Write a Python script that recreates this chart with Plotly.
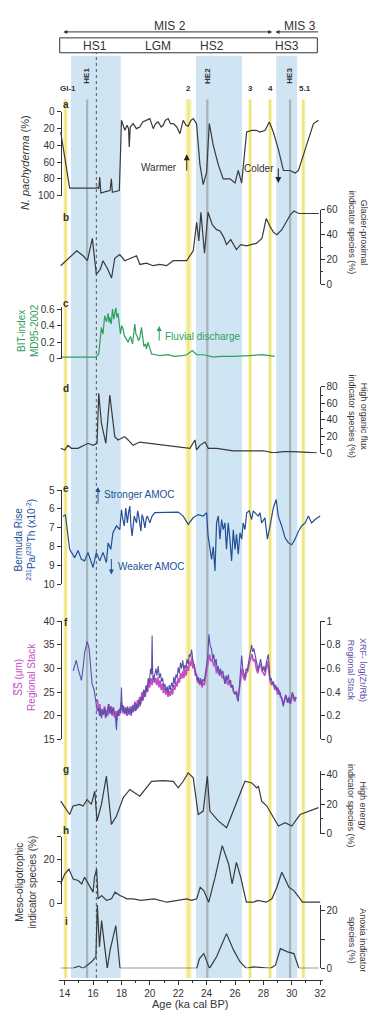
import plotly.graph_objects as go

# ---------------- data ----------------
a_age = [13.72, 14.35, 16.2, 16.3, 16.4, 16.47, 16.55, 16.7, 16.94, 17.2, 17.29, 17.36, 17.6, 17.85, 17.95, 18.0,
         18.24, 18.4, 18.5, 18.55, 18.62, 18.82, 19.05, 19.29, 19.5, 19.76, 20.0, 20.24, 20.4, 20.59, 20.8, 20.94,
         21.1, 21.29, 21.45, 21.65, 21.9, 22.12, 22.35, 22.55, 22.7, 22.9, 23.06, 23.29, 23.53, 23.76, 24.0, 24.19,
         24.47, 24.82, 25.17, 25.65, 26.0, 26.23, 26.47, 26.82, 27.18, 27.5, 27.76, 28.12, 28.42, 28.7, 29.06, 29.41,
         29.88, 30.24, 30.47, 30.94, 31.53, 31.88]
a_val = [24, 91, 91, 90, 92, 78, 97, 96, 95, 94, 80, 96, 95, 94, 40, 10,
         22, 16, 20, 42, 18, 14, 20, 18, 12, 10, 8, 20, 14, 12, 18, 16,
         10, 8, 14, 14, 18, 26, 10, 16, 17, 10, 8, 14, 63, 87, 72, 14,
         40, 63, 80, 80, 85, 70, 85, 24, 22, 22, 24, 22, 12, 24, 45, 70,
         70, 73, 70, 45, 14, 10]

b_age = [13.72, 14.3, 14.85, 15.3, 15.6, 15.95, 16.23, 16.5, 16.7, 17.0, 17.3, 17.53, 17.88, 18.23, 18.59, 19.06,
         19.3, 19.76, 20.23, 20.7, 21.18, 21.65, 22.24, 22.59, 23.06, 23.3, 23.45, 23.6, 23.85, 24.1, 24.4, 24.7,
         24.95, 25.2, 25.4, 25.7, 26.1, 26.4, 26.8, 27.1, 27.5, 27.9, 28.2, 28.45, 28.7, 28.95, 29.3, 29.6, 29.9,
         30.15, 30.5, 31.0, 31.5, 31.9]
b_val = [15, 21, 27, 23, 19, 37, 8, 12, 19, 13, 5, 21, 24, 19, 21, 23,
         16, 17, 15, 16, 15, 19, 19, 19, 27, 50, 35, 58, 25, 58, 48, 44,
         43, 38, 32, 36, 28, 32, 31, 32, 33, 37, 53, 47, 42, 40, 44, 50, 56,
         59, 57, 57, 57, 57]

c_age = [13.72, 14.5, 15.5, 16.2, 16.4, 16.47, 16.59, 16.7, 16.82, 16.94, 17.06, 17.12, 17.18, 17.28, 17.37, 17.46,
         17.53, 17.6, 17.68, 17.76, 17.93, 18.02, 18.12, 18.2, 18.31, 18.47, 18.55, 18.64, 18.78, 18.86, 18.94,
         19.02, 19.11, 19.2, 19.29, 19.41, 19.5, 19.58, 19.7, 19.76, 19.88, 20.12, 20.4, 20.7, 21.3, 21.7, 22.3,
         22.6, 23.0, 23.3, 23.8, 24.5, 24.95, 25.9, 27.05, 27.9, 28.8]
c_val = [0.02, 0.02, 0.02, 0.02, 0.06, 0.2, 0.38, 0.3, 0.52, 0.45, 0.55, 0.44, 0.5, 0.42, 0.6, 0.48,
         0.56, 0.62, 0.5, 0.55, 0.3, 0.4, 0.36, 0.28, 0.25, 0.2, 0.24, 0.27, 0.18, 0.3, 0.42,
         0.3, 0.27, 0.22, 0.25, 0.38, 0.26, 0.15, 0.18, 0.12, 0.2, 0.06, 0.05, 0.04, 0.05, 0.03, 0.04,
         0.05, 0.1, 0.05, 0.05, 0.02, 0.03, 0.03, 0.04, 0.05, 0.03]

d_age = [13.72, 14.0, 14.23, 14.47, 14.94, 15.29, 15.64, 16.0, 16.28, 16.4, 16.59, 16.9, 17.18, 17.53, 17.76, 18.0,
         18.24, 18.47, 18.82, 19.29, 20.0, 20.94, 21.88, 22.82, 23.18, 23.29, 23.53, 23.88, 24.12, 24.7, 25.88,
         26.82, 28.0, 28.7, 29.41, 30.12, 31.06, 31.76]
d_val = [6, 4, 9.5, 6, 6, 9.5, 12, 9.5, 12, 72, 36, 12, 70, 20, 16, 18,
         20, 16, 9.5, 13.5, 12, 9.5, 8, 6, 16, 4, 9.5, 13.5, 6, 6, 3,
         3, 3, 0.5, 2, 2, 1, 0.5]

e_age = [13.88, 14.05, 14.35, 14.7, 14.94, 15.18, 15.4, 15.64, 15.88, 16.0, 16.23, 16.47, 16.7, 16.94, 17.06, 17.25,
         17.4, 17.65, 17.88, 18.0, 18.1, 18.2, 18.3, 18.42, 18.5, 18.59, 18.67, 18.75, 18.9, 19.06, 19.14, 19.22,
         19.37, 19.45, 19.53, 19.65, 19.75, 19.83, 20.0, 20.16, 20.35, 21.3, 22.0, 22.35, 22.7, 23.05, 23.4, 23.76,
         24.0, 24.1, 24.23, 24.35, 24.47, 24.59, 24.7, 24.82, 24.94, 25.06, 25.17, 25.29, 25.4, 25.52, 25.64, 25.76,
         25.88, 26.0, 26.11, 26.23, 26.35, 26.47, 26.58, 26.7, 26.82, 27.0, 27.17, 27.29, 27.53, 27.64, 27.76, 27.88,
         28.11, 28.28, 28.47, 28.7, 28.9, 29.05, 29.29, 29.53, 29.76, 30.0, 30.23, 30.47, 30.7, 30.94, 31.17, 31.4,
         31.64, 32.0]
e_val = [6.4, 6.3, 8.14, 8.58, 8.2, 8.67, 8.75, 8.3, 8.84, 9.1, 8.3, 8.75, 8.3, 8.84, 7.8, 8.14,
         7.26, 6.9, 7.1, 6.04, 6.56, 6.9, 5.95, 6.74, 6.2, 5.85, 6.9, 7.43, 6.38, 6.74, 6.1, 6.38,
         7.18, 6.3, 6.47, 7.0, 6.5, 6.38, 6.74, 6.38, 6.2, 6.17, 6.17, 6.38, 6.82, 6.47, 6.3, 6.38,
         6.2, 7.4, 8.23, 8.67, 8.0, 9.28, 6.74, 6.38, 7.6, 6.56, 7.1, 6.74, 8.14, 6.74, 7.6, 8.75,
         7.1, 8.14, 7.35, 8.4, 7.26, 7.6, 6.74, 7.1, 6.2, 6.1, 6.56, 6.1, 6.3, 6.38, 6.2, 6.74,
         6.47, 7.6, 6.9, 5.95, 5.5, 6.38, 6.9, 7.53, 7.8, 7.9, 7.6, 7.18, 6.9, 6.74, 6.38, 6.74,
         6.56, 6.38]

f_xrf_age = [14.6, 14.75, 14.82, 14.94, 15.06, 15.18, 15.3, 15.41, 15.5, 15.58, 15.72, 15.83, 15.93, 16.07, 16.15,
             16.23, 16.3, 16.38, 16.45, 16.52, 16.6, 16.68, 16.76, 16.84, 16.92, 17.0, 17.08, 17.16, 17.24, 17.32,
             17.4, 17.5, 17.58, 17.65, 17.7, 17.78, 17.86, 17.93, 18.0, 18.05, 18.12, 18.2, 18.28, 18.36, 18.44,
             18.52, 18.6, 18.68, 18.76, 18.84, 18.92, 19.0, 19.08, 19.16, 19.24, 19.32, 19.4, 19.48, 19.56, 19.64,
             19.72, 19.8, 19.88, 19.96, 20.05, 20.12, 20.16, 20.2, 20.28, 20.35, 20.43, 20.5, 20.59, 20.67, 20.75,
             20.82, 20.9, 20.98, 21.06, 21.14, 21.22, 21.29, 21.37, 21.45, 21.53, 21.61, 21.69, 21.76, 21.84, 21.92,
             22.0, 22.08, 22.16, 22.24, 22.32, 22.4, 22.47, 22.55, 22.62, 22.7, 22.78, 22.86, 22.94, 23.02, 23.1,
             23.18, 23.26, 23.34, 23.41, 23.5, 23.58, 23.65, 23.74, 23.82, 23.9, 24.0, 24.08, 24.16, 24.24, 24.35,
             24.43, 24.5, 24.59, 24.67, 24.75, 24.82, 24.9, 24.98, 25.06, 25.14, 25.22, 25.29, 25.37, 25.45, 25.53,
             25.61, 25.69, 25.76, 25.84, 25.92, 26.0, 26.08, 26.16, 26.23, 26.31, 26.4, 26.47, 26.55, 26.62, 26.7,
             26.78, 26.86, 26.94, 27.02, 27.1, 27.17, 27.25, 27.33, 27.41, 27.49, 27.57, 27.64, 27.72, 27.8, 27.88,
             27.96, 28.04, 28.11, 28.19, 28.27, 28.35, 28.42, 28.47, 28.55, 28.62, 28.7, 28.78, 28.86, 28.94, 29.02,
             29.1, 29.17, 29.25, 29.33, 29.41, 29.49, 29.57, 29.64, 29.72, 29.8, 29.88, 29.96, 30.04, 30.11, 30.2,
             30.3]
f_xrf_val = [0.58, 0.63, 0.67, 0.60, 0.55, 0.50, 0.61, 0.74, 0.78, 0.83, 0.77, 0.60, 0.47, 0.42, 0.36,
             0.33, 0.24, 0.27, 0.20, 0.26, 0.18, 0.25, 0.21, 0.27, 0.19, 0.24, 0.30, 0.22, 0.28, 0.21,
             0.27, 0.23, 0.18, 0.08, 0.24, 0.20, 0.26, 0.22, 0.44, 0.24, 0.29, 0.22, 0.27, 0.21, 0.28,
             0.22, 0.27, 0.20, 0.28, 0.23, 0.31, 0.24, 0.30, 0.26, 0.34, 0.28, 0.36, 0.33, 0.42, 0.36,
             0.45, 0.40, 0.52, 0.47, 0.60, 0.55, 0.88, 0.56, 0.50, 0.55, 0.60, 0.54, 0.62, 0.52, 0.56,
             0.49, 0.52, 0.44, 0.47, 0.41, 0.45, 0.39, 0.46, 0.42, 0.48, 0.44, 0.53, 0.47, 0.55, 0.52,
             0.61, 0.56, 0.65, 0.60, 0.67, 0.58, 0.63, 0.60, 0.68, 0.64, 0.72, 0.70, 0.76, 0.68, 0.65,
             0.60, 0.55, 0.50, 0.53, 0.47, 0.52, 0.46, 0.51, 0.49, 0.55, 0.62, 0.70, 0.89, 0.80, 0.76,
             0.68, 0.72, 0.64, 0.68, 0.58, 0.62, 0.55, 0.60, 0.55, 0.58, 0.50, 0.47, 0.54, 0.50, 0.55,
             0.48, 0.50, 0.44, 0.46, 0.40, 0.38, 0.40, 0.34, 0.32, 0.45, 0.62, 0.71, 0.60, 0.56, 0.52,
             0.60, 0.58, 0.64, 0.70, 0.76, 0.80, 0.74, 0.77, 0.72, 0.66, 0.62, 0.58, 0.64, 0.68, 0.63,
             0.58, 0.62, 0.57, 0.64, 0.70, 0.72, 0.60, 0.50, 0.52, 0.47, 0.49, 0.44, 0.46, 0.41, 0.44,
             0.38, 0.40, 0.35, 0.33, 0.28, 0.34, 0.38, 0.35, 0.31, 0.36, 0.30, 0.36, 0.40, 0.37, 0.33,
             0.36]

f_ss_age = [16.3, 16.4, 16.48, 16.56, 16.64, 16.72, 16.8, 16.88, 16.96, 17.04, 17.12, 17.2, 17.28, 17.36, 17.44,
            17.52, 17.6, 17.68, 17.76, 17.84, 17.92, 18.0, 18.08, 18.16, 18.24, 18.32, 18.4, 18.48, 18.56, 18.64,
            18.72, 18.8, 18.88, 18.96, 19.04, 19.12, 19.2, 19.28, 19.36, 19.44, 19.52, 19.6, 19.68, 19.76, 19.84,
            19.92, 20.0, 20.08, 20.16, 20.24, 20.32, 20.4, 20.48, 20.56, 20.64, 20.72, 20.8, 20.88, 20.96, 21.04,
            21.12, 21.2, 21.28, 21.36, 21.44, 21.52, 21.6, 21.68, 21.76, 21.84, 21.92, 22.0, 22.08, 22.16, 22.24,
            22.32, 22.4, 22.48, 22.56, 22.64, 22.72, 22.8, 22.88, 22.96, 23.04, 23.12, 23.2, 23.28, 23.36, 23.44,
            23.52, 23.6, 23.68, 23.76, 23.84, 23.92, 24.0, 24.1, 24.2, 24.3, 24.4, 24.5, 24.6, 24.7, 24.8,
            24.9, 25.0, 25.1, 25.2, 25.3, 25.4, 25.5, 25.6, 25.7, 25.8, 25.9, 26.0, 26.1, 26.2, 26.3,
            26.4, 26.5, 26.6, 26.7, 26.8, 26.9, 27.0, 27.1, 27.2, 27.3, 27.4, 27.5, 27.6, 27.7, 27.8,
            27.9, 28.0, 28.1, 28.2, 28.3, 28.4, 28.5, 28.6, 28.7, 28.8, 28.9, 29.0, 29.1, 29.2, 29.3,
            29.4, 29.5, 29.6, 29.7, 29.8, 29.9, 30.0, 30.1, 30.2, 30.3]
f_ss_val = [23.5, 21.0, 22.5, 19.8, 21.5, 20.2, 22.0, 19.5, 21.2, 20.0, 22.5, 20.5, 22.0, 20.0, 21.8,
            19.6, 21.0, 19.0, 21.2, 20.0, 21.5, 22.8, 20.5, 22.0, 20.3, 21.8, 20.0, 21.5, 20.2, 22.0,
            20.5, 22.3, 21.0, 23.0, 21.2, 23.3, 21.8, 24.0, 22.5, 25.0, 23.2, 25.5, 24.0, 26.5, 25.0,
            27.0, 26.0, 28.0, 26.5, 28.5, 27.0, 28.0, 26.5, 28.2, 26.0, 27.5, 25.5, 26.8, 24.8, 26.0,
            24.5, 25.5, 24.0, 25.2, 24.2, 25.8, 24.5, 26.5, 25.5, 27.2, 26.2, 28.0, 27.0, 29.0, 27.8,
            29.5, 28.0, 29.8, 28.5, 30.5, 29.5, 31.5, 30.5, 32.5, 30.0, 31.0, 28.5, 29.0, 27.0, 28.0,
            26.5, 27.5, 26.0, 27.0, 26.5, 28.0, 29.5, 31.0, 33.0, 31.5, 32.0, 30.5, 31.0, 29.0, 30.0,
            28.5, 29.2, 28.0, 28.5, 26.8, 27.8, 26.5, 27.5, 26.0, 26.5, 25.0, 24.8, 25.2, 23.8, 25.5,
            28.5, 30.0, 28.0, 27.5, 29.0, 29.5, 31.0, 32.0, 33.0, 31.5, 32.0, 30.0, 29.0, 30.5, 31.0,
            29.5, 29.0, 28.5, 30.0, 31.5, 29.0, 27.0, 26.5, 27.2, 25.5, 26.2, 24.5, 25.5, 24.0, 23.8,
            22.5, 23.5, 24.2, 22.8, 23.8, 22.5, 23.8, 24.5, 23.0, 24.0]

g_age = [13.72, 14.0, 14.35, 14.59, 15.06, 15.29, 15.58, 15.88, 16.12, 16.28, 16.59, 16.94, 17.29, 17.65, 18.12,
         18.59, 19.29, 20.12, 20.94, 21.65, 22.0, 22.35, 22.7, 23.06, 23.41, 23.76, 24.05, 24.23, 24.82, 25.41,
         25.88, 26.35, 26.7, 27.18, 27.53, 27.65, 27.88, 28.24, 28.59, 29.06, 29.53, 30.0, 30.59, 31.29, 31.88]
g_val = [22, 17.6, 13, 18.7, 19.8, 18.7, 23, 19.8, 28.7, 8.7, 19.8, 38.7, 6.4, 12, 24.2,
         29.8, 25.3, 35.3, 35.8, 35.3, 30.9, 35.3, 40.9, 37.6, 13, 15.3, 38.7, 15.3, 8.7, 4.2,
         15.3, 26.4, 35.3, 34.2, 30.9, 32, 22, 18.7, 13, 5.3, 7.5, 5.3, 13, 15.3, 17.6]

h_age = [13.72, 14.0, 14.3, 14.6, 14.95, 15.2, 15.4, 15.6, 15.8, 16.0, 16.1, 16.25, 16.35, 16.6, 16.95,
         17.3, 17.55, 17.9, 18.4, 18.85, 19.35, 20.3, 21.2, 22.1, 22.6, 22.95, 23.3, 23.55, 23.8, 24.15,
         24.6, 25.1, 25.55, 25.8, 26.1, 26.4, 26.8, 27.3, 27.6, 28.2, 28.6, 28.95, 29.3, 29.8, 30.15,
         30.5, 30.75, 31.3, 32.0]
h_val = [8.9, 13.3, 15.5, 11.1, 10.4, 8.9, 11.9, 9.6, 7.4, 5.2, 11.9, 15.5, 2.2, 3.7, 1.5,
         2.2, 5.2, 3.7, 2.2, 2.2, 1.5, 2.2, 0.7, 1.5, 2.2, 1.5, 2.2, 7.4, 5.9, 0.7,
         11.9, 26, 17.8, 8.9, 18.5, 11.9, 0.7, 0.7, 1.5, 0.7, 2.2, 7.4, 14.1, 7.4, 5.9,
         3, 0.7, 0.7, 0.7]

i_age = [13.72, 14.6, 15.0, 15.3, 15.9, 16.2, 16.3, 16.45, 16.6, 16.75, 17.0, 17.2, 17.6, 17.9, 18.4,
         22.6, 23.3, 23.5, 23.8, 24.2, 24.7, 25.4, 25.9, 26.35, 26.8, 27.3, 28.5, 28.85, 29.2, 29.7,
         30.15, 30.5, 31.1, 31.9]
i_val = [0, 0, 0.8, 0, 2.3, 4, 22, 7.4, 16.5, 9.7, 0, 6.3, 14.8, 0, 0,
         0, 0, 3.4, 5.1, 0, 4, 12, 6.3, 2.3, 0, 0.5, 0, 1.1, 6.8, 5.7,
         5.1, 0, 0, 0]

x_ticks = [14, 16, 18, 20, 22, 24, 26, 28, 30, 32]

# event bands (ka)
hs_bands = [(14.45, 17.95), (23.25, 26.5), (28.9, 30.38)]
he_lines = [15.58, 24.05, 29.88]
yellow_bands = [(13.92, 14.2), (22.5, 22.95), (26.93, 27.2), (28.34, 28.6), (30.68, 30.96)]
dotted_x = 16.23

# ---------------- layout helpers ----------------
# The page body adds an 8 px offset; the figure is sized so absolute positions match the 376x1019 frame.
OFF = 8
W, H = 376 - OFF, 1019 - OFF
PLOT_L, PLOT_R, PLOT_T, PLOT_B = 59, 323, 10, 980          # absolute pixel frame of the plot area
ML, MR, MT = PLOT_L - OFF, 376 - PLOT_R, PLOT_T - OFF
MB = H - (PLOT_B - OFF)
PW = PLOT_R - PLOT_L
PH = PLOT_B - PLOT_T
FONT = "Liberation Sans, Arial, Helvetica, sans-serif"
INK = "#333333"
BLACKLINE = "#3a3a3a"
GREEN = "#2fa05a"
BLUE = "#234f97"
MAGENTA = "#c44fc4"
PURPLE = "#5b50a8"


def py(p):
    return (PLOT_B - p) / PH


def pxp(p):
    return (p - PLOT_L) / PW


def yax(bottom, top, rng, side, tickvals, ticktext=None, minor=None):
    d = dict(domain=[py(bottom), py(top)], range=rng, side=side, anchor="free",
             position=0.006 if side == "left" else 0.987,
             showline=True, linecolor=INK, linewidth=1, ticks="outside", ticklen=4,
             tickwidth=1, tickcolor=INK, tickvals=tickvals,
             tickfont=dict(size=10, color=INK, family=FONT),
             showgrid=False, zeroline=False, fixedrange=True)
    if ticktext is not None:
        d["ticktext"] = ticktext
    if minor is not None:
        d["minor"] = dict(tickvals=minor, ticks="outside", ticklen=2, tickcolor=INK)
    return d


fig = go.Figure()

def line(x, y, yaxis, color, width=1.2):
    fig.add_trace(go.Scatter(x=x, y=y, xaxis="x", yaxis=yaxis, mode="lines",
                             line=dict(color=color, width=width), hoverinfo="skip",
                             showlegend=False, cliponaxis=False))

line(a_age, a_val, "y", BLACKLINE)
line(b_age, b_val, "y2", BLACKLINE)
line(c_age, c_val, "y3", GREEN)
line(d_age, d_val, "y4", BLACKLINE)
line(e_age, e_val, "y5", BLUE)
line(f_ss_age, f_ss_val, "y6", MAGENTA, 1.6)
line(f_xrf_age, f_xrf_val, "y7", PURPLE, 1.1)
line(g_age, g_val, "y8", BLACKLINE)
line(h_age, h_val, "y9", BLACKLINE)
line(i_age, i_val, "y10", BLACKLINE)

layout = dict(
    width=W, height=H, margin=dict(l=ML, r=MR, t=MT, b=MB),
    paper_bgcolor="white", plot_bgcolor="rgba(0,0,0,0)",
    font=dict(family=FONT, size=10, color=INK), showlegend=False,
    xaxis=dict(domain=[0, 1], range=[13.6, 32.2], anchor="free", position=0,
               showline=True, linecolor=INK, linewidth=1, ticks="outside", ticklen=4,
               tickcolor=INK, tickvals=x_ticks, tickfont=dict(size=10, color=INK),
               minor=dict(tickvals=[15, 17, 19, 21, 23, 25, 27, 29, 31], ticks="outside",
                          ticklen=2, tickcolor=INK),
               showgrid=False, zeroline=False, fixedrange=True),
    yaxis=yax(190.7, 106.5, [100, 0], "left", [0, 20, 40, 60, 80, 100]),
    yaxis2=yax(280, 205, [0, 60], "right", [0, 20, 40, 60], minor=[10, 30, 50]),
    yaxis3=yax(355, 303.3, [0, 0.62], "left", [0, 0.2, 0.4, 0.6], ticktext=["0", "0.2", "0.4", "0.6"]),
    yaxis4=yax(450, 383, [0, 80], "right", [0, 20, 40, 60, 80], minor=[10, 30, 50, 70]),
    yaxis5=yax(582, 487, [10, 5], "left", [5, 6, 7, 8, 9, 10]),
    yaxis6=yax(738, 619, [15, 40], "left", [15, 20, 25, 30, 35, 40]),
    yaxis8=yax(833, 770, [0, 42], "right", [0, 20, 40], minor=[10, 30]),
    yaxis9=yax(903.3, 835.8, [0, 30], "left", [0, 10, 20, 30], ticktext=["0", "", "20", ""]),
    yaxis10=yax(968.3, 904.2, [0, 22], "right", [0, 10, 20], ticktext=["0", "", "20"]),
)
y7 = yax(738, 619, [0, 1], "right", [0, 0.2, 0.4, 0.6, 0.8, 1],
         ticktext=["0", "0.2", "0.4", "0.6", "0.8", "1"])
y7.pop("domain")
y7["overlaying"] = "y6"
layout["yaxis7"] = y7

shapes = []
top_blue, top_line, bottom = py(50), py(94), py(978)
for x0, x1 in hs_bands:
    shapes.append(dict(type="rect", xref="x", yref="paper", x0=x0, x1=x1, y0=bottom, y1=top_blue,
                       fillcolor="#cfe5f4", line=dict(width=0), layer="below"))
for xc in he_lines:
    shapes.append(dict(type="rect", xref="x", yref="paper", x0=xc - 0.08, x1=xc + 0.08, y0=bottom, y1=top_line,
                       fillcolor="#a9b3ba", line=dict(width=0), layer="below"))
for x0, x1 in yellow_bands:
    shapes.append(dict(type="rect", xref="x", yref="paper", x0=x0, x1=x1, y0=bottom, y1=top_line,
                       fillcolor="#f8f4c0", line=dict(width=0), layer="below"))
    xm = (x0 + x1) / 2
    shapes.append(dict(type="line", xref="x", yref="paper", x0=xm, x1=xm, y0=bottom, y1=top_line,
                       line=dict(color="#efe47a", width=2), layer="below"))
shapes.append(dict(type="line", xref="x", yref="paper", x0=dotted_x, x1=dotted_x, y0=bottom, y1=py(47),
                   line=dict(color="#555555", width=1, dash="dot"), layer="below"))
# header box
shapes.append(dict(type="rect", xref="x", yref="paper", x0=13.65, x1=31.8, y0=py(47), y1=py(32),
                   fillcolor="white", line=dict(color="#333333", width=1)))
layout["shapes"] = shapes

ann = []

def txt(x, y, text, size=10, color=INK, xref="x", angle=0, bold=False, xanchor="center"):
    t = f"<b>{text}</b>" if bold else text
    ann.append(dict(x=x, y=y, xref=xref, yref="paper", text=t, showarrow=False, textangle=angle,
                    font=dict(size=size, color=color, family=FONT), xanchor=xanchor, yanchor="middle"))

def varrow(x, y_from, y_to, color, head=2, size=1.0, width=1.0):
    ann.append(dict(x=x, y=py(y_to), xref="x", yref="paper", ax=0, ay=y_from - y_to,
                    axref="pixel", ayref="pixel", text="", showarrow=True, arrowhead=head,
                    arrowsize=size, arrowwidth=width, arrowcolor=color))

def harrow(x_from, x_to, y, color, side="end", head=2, size=0.8, width=1.0):
    ann.append(dict(x=x_to, y=py(y), xref="x", yref="paper", ax=x_from, ay=0,
                    axref="x", ayref="pixel", text="", showarrow=True, arrowhead=head, startarrowhead=head,
                    arrowsize=size, startarrowsize=size, arrowwidth=width, arrowcolor=color, arrowside=side))

# header
txt(21.4, py(20), "MIS 2", size=12)
txt(30.6, py(20), "MIS 3", size=12)
harrow(13.8, 28.62, 26, "#333333", side="end+start")
harrow(28.75, 31.86, 26, "#333333", side="start")
txt(16.12, py(40), "HS1", size=12)
txt(20.56, py(40), "LGM", size=12)
txt(24.38, py(40), "HS2", size=12)
txt(29.67, py(40), "HS3", size=12)
# events
txt(14.2, py(83), "GI-1", size=8, bold=True)
txt(15.58, py(70), "HE1", size=8, bold=True, angle=-90)
txt(22.72, py(83), "2", size=8, bold=True)
txt(24.05, py(70), "HE2", size=8, bold=True, angle=-90)
txt(27.06, py(83), "3", size=8, bold=True)
txt(28.47, py(83), "4", size=8, bold=True)
txt(29.88, py(70), "HE3", size=8, bold=True, angle=-90)
txt(30.9, py(83), "5.1", size=8, bold=True)
# panel letters
for letter, yp in [("a", 99), ("b", 213), ("c", 299), ("d", 385), ("e", 485), ("f", 620),
                   ("g", 768), ("h", 830), ("i", 921)]:
    txt(14.12, py(yp), letter, size=10, bold=True)
# annotations inside panels
txt(20.68, py(162), "Warmer", size=10)
varrow(22.6, 167, 149, "#222222", head=2, size=1.2)
txt(27.7, py(163), "Colder", size=10)
varrow(29.05, 162, 178, "#222222", head=2, size=1.2)
varrow(20.66, 338, 322, GREEN)
txt(20.95, py(332), "Fluvial discharge", size=10, color=GREEN, xanchor="left")
varrow(16.35, 502, 484, BLUE)
txt(16.65, py(491), "Stronger AMOC", size=10, color=BLUE, xanchor="left")
varrow(17.29, 555, 572, BLUE)
txt(17.6, py(564), "Weaker AMOC", size=10, color=BLUE, xanchor="left")

# axis titles
txt(pxp(25), py(158), "<i>N. pachyderma</i> (%)", size=11, xref="paper", angle=-90)
txt(pxp(358), py(228), "Glacier-proximal<br>indicator species (%)", size=9, xref="paper", angle=90)
txt(pxp(28), py(327), "BIT-index<br>MD95-2002", size=10, color=GREEN, xref="paper", angle=-90)
txt(pxp(358), py(413), "High organic flux<br>indicator species (%)", size=9, xref="paper", angle=90)
txt(pxp(25), py(537), "Bermuda Rise<br><sup>231</sup>Pa/<sup>230</sup>Th (x10<sup>-2</sup>)", size=10,
    color=BLUE, xref="paper", angle=-90)
txt(pxp(25), py(675), "S\u0305S\u0305 (\u00b5m)<br>Regional Stack", size=10, color=MAGENTA, xref="paper", angle=-90)
txt(pxp(357), py(668), "XRF- log(Zr/Rb)<br>Regional Stack", size=9, color=PURPLE, xref="paper", angle=90)
txt(pxp(357), py(805), "High energy<br>indicator species (%)", size=9, xref="paper", angle=90)
txt(pxp(26), py(882), "Meso-oligotrophic<br>indicator species (%)", size=10, xref="paper", angle=-90)
txt(pxp(357), py(940), "Anoxia indicator<br>species (%)", size=9, xref="paper", angle=90)
txt(pxp(190), py(1004), "Age (ka cal BP)", size=11, xref="paper")

layout["annotations"] = ann
fig.update_layout(**layout)
fig.write_html("out.html")
